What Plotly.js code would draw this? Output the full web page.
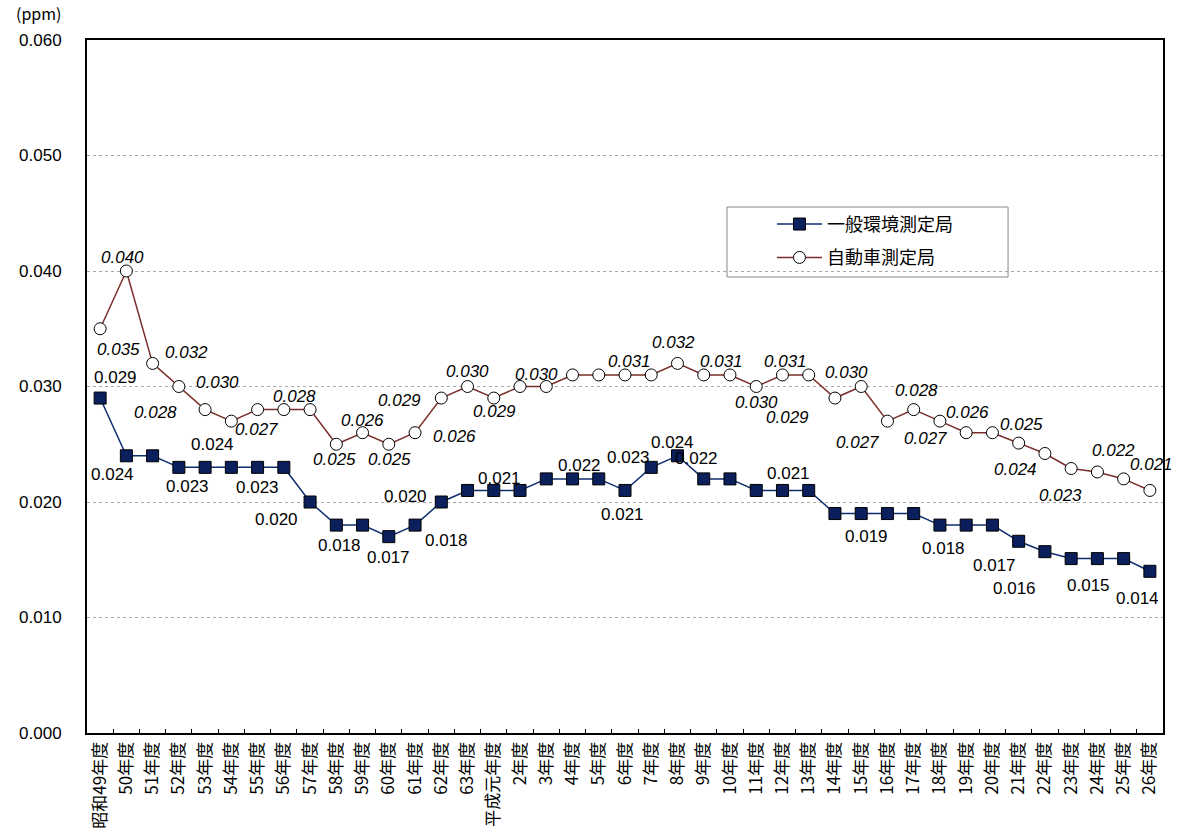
<!DOCTYPE html>
<html>
<head>
<meta charset="utf-8">
<script src="https://cdn.plot.ly/plotly-3.0.1.min.js"></script>
<style>html,body{margin:0;padding:0;background:#fff;}#chart{width:1185px;height:834px;}</style>
</head>
<body>
<div id="chart"></div>
<script>
// Fiscal years
const categories = ["昭和49年度","50年度","51年度","52年度","53年度","54年度","55年度","56年度","57年度","58年度","59年度","60年度","61年度","62年度","63年度",
  "平成元年度","2年度","3年度","4年度","5年度","6年度","7年度","8年度","9年度","10年度","11年度","12年度","13年度","14年度","15年度","16年度","17年度","18年度","19年度","20年度","21年度","22年度","23年度","24年度","25年度","26年度"];

// 一般環境測定局 (ppm)
const generalValues = [0.029,0.024,0.024,0.023,0.023,0.023,0.023,0.023,0.020,0.018,0.018,0.017,0.018,0.020,0.021,
  0.021,0.021,0.022,0.022,0.022,0.021,0.023,0.024,0.022,0.022,0.021,0.021,0.021,0.019,0.019,0.019,0.019,0.018,0.018,0.018,0.0166,0.0157,0.0151,0.0151,0.0151,0.014];

// 自動車測定局 (ppm)
const autoValues = [0.035,0.040,0.032,0.030,0.028,0.027,0.028,0.028,0.028,0.025,0.026,0.025,0.026,0.029,0.030,
  0.029,0.030,0.030,0.031,0.031,0.031,0.031,0.032,0.031,0.031,0.030,0.031,0.031,0.029,0.030,0.027,0.028,0.027,0.026,0.026,0.0251,0.0242,0.0229,0.0226,0.0220,0.0210];

const yTicks = [0,0.01,0.02,0.03,0.04,0.05,0.06];

// labelled points: [category index, pixel shift x, pixel shift y]
const generalLabels = [[0,15,-21],[1,-14,19],[2,60,-11],[3,9,19],[6,0,20],[8,-34,17],[9,3,20],[11,0,21],[12,31,15],[13,-36,-6],
  [15,6,-12],[18,7,-13],[20,-3,24],[21,-23,-10],[22,-5,-13],[23,-7,-20],[26,6,-17],[29,5,23],[32,4,23],[35,-24,24],[36,-30,37],[37,17,27],[40,-12,27]];
const autoLabels = [[1,-4,-14],[0,18,21],[2,34,-11],[4,-50,3],[3,39,-4],[5,25,8],[7,11,-13],[9,-2,15],[10,0,-12],[11,1,15],[13,-42,2],
  [12,39,4],[14,0,-15],[15,1,13],[17,-10,-12],[20,4,-13],[22,-4,-21],[24,-8,-13],[25,0,16],[26,3,-13],[28,-47,19],[29,-15,-14],
  [30,-30,21],[31,3,-19],[32,-14,17],[33,1,-20],[35,3,-19],[36,-29,16],[37,-11,27],[39,-10,-28],[40,2,-26]];

const numFont = "Liberation Sans, Arial, sans-serif";
const jpFont = "Noto Sans CJK JP, sans-serif";

const annotations = [];
generalLabels.forEach(([i,dx,dy]) => {
  annotations.push({x: categories[i], y: generalValues[i], xref:'x', yref:'y', text: generalValues[i].toFixed(3),
    showarrow:false, xshift:dx, yshift:-dy, font:{family:numFont, size:17, color:'#000'}});
});
autoLabels.forEach(([i,dx,dy]) => {
  annotations.push({x: categories[i], y: autoValues[i], xref:'x', yref:'y', text: '<i>'+autoValues[i].toFixed(3)+'</i>',
    showarrow:false, xshift:dx, yshift:-dy, font:{family:numFont, size:17, color:'#000'}});
});
annotations.push({xref:'paper', yref:'paper', x:-0.045, y:1.0, yanchor:'bottom', yshift:13, xanchor:'center', text:'(ppm)',
  showarrow:false, font:{family:jpFont, size:16, color:'#000'}});

const traces = [
  {x: categories, y: generalValues, name:'一般環境測定局', type:'scatter', mode:'lines+markers', legendgroup:'g1',
   line:{color:'#0f2d6e', width:1.5},
   marker:{symbol:'square', size:12, color:'#0a1f5c', line:{color:'#000', width:1}}},
  {x: categories, y: autoValues, name:'自動車測定局', type:'scatter', mode:'lines+markers', legendgroup:'g2',
   line:{color:'#7a2e2a', width:1.5},
   marker:{symbol:'circle', size:12, color:'#fff', line:{color:'#000', width:1}}}
];

const layout = {
  width:1185, height:834,
  margin:{l:87, r:22, t:40, b:101, pad:0},
  paper_bgcolor:'#fff', plot_bgcolor:'#fff',
  showlegend:true,
  legend:{x:0.6366, y:0.7607, xanchor:'left', yanchor:'top', bgcolor:'rgba(0,0,0,0)', borderwidth:0,
    font:{family:jpFont, size:18, color:'#000'}, itemwidth:45, tracegroupgap:7},
  shapes:[{type:'rect', xref:'paper', yref:'paper', x0:0.5948, x1:0.856, y0:0.658, y1:0.759,
    line:{color:'#888', width:1}, fillcolor:'#fff', layer:'below'}],
  xaxis:{type:'category', tickangle:-90, tickfont:{family:jpFont, size:17, color:'#000'},
    showline:true, linecolor:'#000', linewidth:2, mirror:true, ticks:'inside', ticklen:4, tickcolor:'#000',
    tickson:'boundaries', showgrid:false, zeroline:false, range:[-0.5, 40.5]},
  yaxis:{range:[0,0.06], tickvals:yTicks, tickformat:'.3f', tickfont:{family:numFont, size:17, color:'#000'},
    showline:true, linecolor:'#000', linewidth:2, mirror:true, ticks:'', ticklabelstandoff:20,
    showgrid:true, gridcolor:'#a8a8a8', griddash:'dot', gridwidth:1, zeroline:false},
  annotations: annotations
};

Plotly.newPlot('chart', traces, layout, {displayModeBar:false, staticPlot:true});
</script>
</body>
</html>
